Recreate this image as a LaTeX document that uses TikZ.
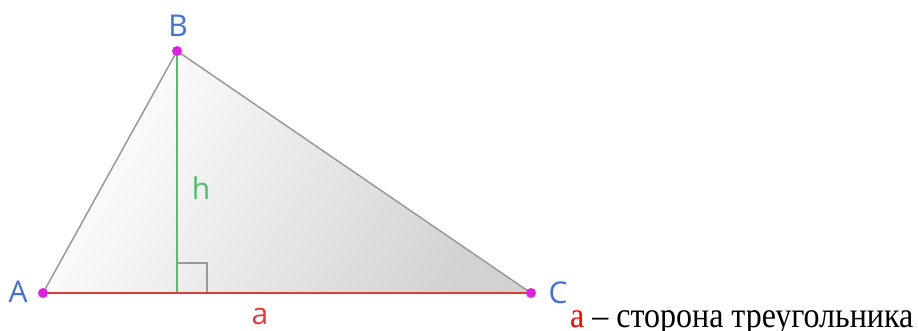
\documentclass[tikz,border=0pt]{standalone}
\usepackage{fontspec}
\setmainfont{Liberation Serif}
\newfontfamily\labelfont{Open Sans}
\usepackage{tikz}
\usetikzlibrary{calc}
\usepackage{xcolor}
\definecolor{ptblue}{HTML}{3F6FE0}
\definecolor{ptpink}{HTML}{E020E0}
\definecolor{sidered}{HTML}{E03A3A}
\definecolor{hgreen}{HTML}{50BE6E}
\definecolor{edgegray}{HTML}{999999}

\begin{document}
\begin{tikzpicture}[x=1pt, y=-1pt]
  \useasboundingbox (0,0) rectangle (918,331);
  \tikzset{
    vlabel/.style={text=ptblue, font=\labelfont\fontsize{30}{34}\selectfont, inner sep=0pt},
    dot/.style={circle, fill=ptpink, inner sep=0pt, minimum size=10pt}
  }
  \coordinate (A) at (43,293);
  \coordinate (B) at (177,51);
  \coordinate (C) at (531,293);
  \coordinate (H) at (177,293);

  \shade[left color=white, right color=gray!35, shading angle=60] (A) -- (B) -- (C) -- cycle;
  \draw[edgegray, line width=1.5pt] (A) -- (B) -- (C);

  \draw[edgegray, line width=1.8pt] ($(H)+(0,-30)$) -- ++(30,0) -- ++(0,30);
  \draw[hgreen, line width=1.8pt] (B) -- (H);
  \draw[sidered, line width=2pt] (A) -- (C);

  \node[dot] (dA) at (A) {};
  \node[dot] (dB) at (B) {};
  \node[dot] (dC) at (C) {};

  \node[vlabel] (lA) at (18,292) {A};
  \node[vlabel] (lB) at (178,26) {B};
  \node[vlabel] (lC) at (558,293) {C};
  \node[vlabel, text=hgreen] (lh) at (201,188) {h};
  \node[vlabel, text=sidered] (la) at (260,316) {a};

  \node[anchor=base west, inner sep=0pt, font=\fontsize{32}{36}\selectfont] (cap) at (570,327)
    {\scalebox{1}[1.12]{\textcolor{red}{a} – сторона треугольника}};
\end{tikzpicture}
\end{document}
